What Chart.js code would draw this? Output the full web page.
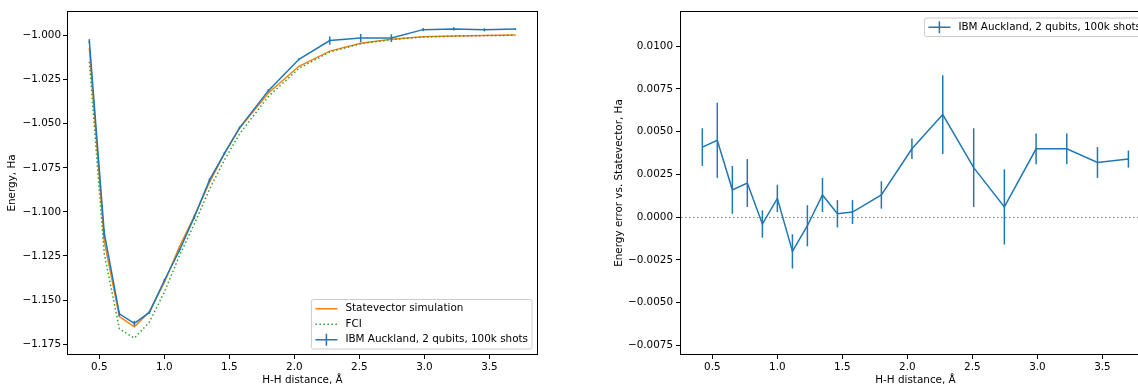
<!DOCTYPE html>
<html>
<head>
<meta charset="utf-8">
<script src="https://cdn.jsdelivr.net/npm/chart.js@4.4.0/dist/chart.umd.min.js"></script>
<style>
  html, body { margin: 0; padding: 0; background: #fff; overflow: hidden; }
  body { width: 1138px; height: 387px; position: relative; }
  #energyChart { position: absolute; left: 0; top: 0; }
  #errorChart { position: absolute; left: 600px; top: 0; }
</style>
</head>
<body>
<canvas id="energyChart" width="560" height="387"></canvas>
<canvas id="errorChart" width="560" height="387"></canvas>
<script>
// H-H distances (Angstrom)
const distances = [0.423, 0.538, 0.654, 0.769, 0.885, 1.000, 1.116, 1.231, 1.347, 1.462,
                   1.578, 1.800, 2.035, 2.272, 2.510, 2.746, 2.990, 3.226, 3.462, 3.700];
// energies, Ha
const statevector = [-1.0072, -1.1166, -1.1594, -1.1652, -1.1566, -1.1400, -1.1198, -1.1023, -1.0833, -1.0670,
                     -1.0526, -1.0325, -1.0174, -1.0088, -1.0043, -1.0020, -1.0006, -1.0002, -0.9999, -0.9997];
const fci = [-1.0148, -1.1238, -1.1663, -1.1716, -1.1625, -1.1455, -1.1248, -1.1068, -1.0872, -1.0705,
             -1.0558, -1.0345, -1.0186, -1.0093, -1.0046, -1.0022, -1.0008, -1.0003, -1.0000, -0.9998];
const ibmEnergy = [-1.0031, -1.1121, -1.1578, -1.1632, -1.1570, -1.1389, -1.1218, -1.1028, -1.0820, -1.0668,
                   -1.0523, -1.0312, -1.0134, -1.0028, -1.0014, -1.0014, -0.9966, -0.9962, -0.9967, -0.9963];
// IBM minus statevector, Ha
const ibmError = [0.0041, 0.0045, 0.0016, 0.0020, -0.0004, 0.0011, -0.0020, -0.0005, 0.0013, 0.0002,
                  0.0003, 0.0013, 0.0040, 0.0060, 0.0029, 0.0006, 0.0040, 0.0040, 0.0032, 0.0034];
// one-sigma uncertainty of the hardware runs
const ibmSigma = [0.0011, 0.0022, 0.0014, 0.0014, 0.0008, 0.0008, 0.0010, 0.0012, 0.0010, 0.0008,
                  0.0007, 0.0008, 0.0006, 0.0023, 0.0023, 0.0022, 0.0009, 0.0009, 0.0009, 0.0005];

const xTicks = [0.5, 1.0, 1.5, 2.0, 2.5, 3.0, 3.5];
const energyTicks = [-1.175, -1.150, -1.125, -1.100, -1.075, -1.050, -1.025, -1.000];
const errorTicks = [-0.0075, -0.0050, -0.0025, 0.0000, 0.0025, 0.0050, 0.0075, 0.0100];
const xRange = [0.259, 3.866];
const energyRange = [-1.1806, -0.9866];
const errorRange = [-0.008, 0.012];
const zeroLevel = 0;

const BLUE = '#1f77b4', ORANGE = '#ff7f0e', GREEN = '#2ca02c';
const IBM_LABEL = 'IBM Auckland, 2 qubits, 100k shots';
const FONT_SIZE = 10.4;

Chart.defaults.font.family = '"DejaVu Sans", sans-serif';
Chart.defaults.font.size = FONT_SIZE;
Chart.defaults.color = '#000';

const pts = ys => distances.map((d, i) => ({x: d, y: ys[i]}));
const minus = s => s.replace('-', '\u2212');

// frame, error bars, zero line and matplotlib-like legend
const extras = {
  id: 'extras',
  beforeDatasetsDraw(chart, args, opts) {
    if (opts.zeroLine === undefined) return;
    const {ctx, chartArea: a, scales: {y}} = chart;
    const py = Math.round(y.getPixelForValue(opts.zeroLine)) + 0.5;
    ctx.save();
    ctx.strokeStyle = '#808080';
    ctx.lineWidth = 1;
    ctx.setLineDash([1.5, 2.5]);
    ctx.beginPath(); ctx.moveTo(a.left, py); ctx.lineTo(a.right, py); ctx.stroke();
    ctx.restore();
  },
  afterDatasetsDraw(chart) {
    const {ctx, chartArea: a, scales: {x, y}} = chart;
    ctx.save();
    ctx.beginPath(); ctx.rect(a.left, a.top, a.right - a.left, a.bottom - a.top); ctx.clip();
    chart.data.datasets.forEach(ds => {
      if (!ds.errs) return;
      ctx.strokeStyle = ds.borderColor;
      ctx.lineWidth = ds.borderWidth;
      ds.data.forEach((p, i) => {
        const px = x.getPixelForValue(p.x);
        ctx.beginPath();
        ctx.moveTo(px, y.getPixelForValue(p.y - ds.errs[i]));
        ctx.lineTo(px, y.getPixelForValue(p.y + ds.errs[i]));
        ctx.stroke();
      });
    });
    ctx.restore();
  },
  afterDraw(chart, args, opts) {
    const {ctx, chartArea: a} = chart;
    ctx.save();
    ctx.strokeStyle = '#000';
    ctx.lineWidth = 1;
    ctx.strokeRect(Math.round(a.left) - 0.5, Math.round(a.top) - 0.5,
                   Math.round(a.right - a.left) + 1, Math.round(a.bottom - a.top) + 1);
    ctx.restore();
    if (opts.legend) drawLegend(ctx, a, opts.legend);
  }
};

function drawLegend(ctx, a, leg) {
  ctx.save();
  ctx.font = FONT_SIZE + 'px "DejaVu Sans"';
  const pad = 4, rowH = 10.5, gap = 5, handle = 22, textGap = 8;
  const tw = Math.max(...leg.items.map(it => ctx.measureText(it.label).width));
  const w = pad + handle + textGap + tw + pad;
  const h = pad * 2 + leg.items.length * rowH + (leg.items.length - 1) * gap;
  const x0 = a.right - 5 - w;
  const y0 = leg.corner === 'br' ? a.bottom - 5 - h : a.top + 6;
  ctx.beginPath();
  ctx.roundRect(x0, y0, w, h, 2);
  ctx.fillStyle = 'rgba(255,255,255,0.8)';
  ctx.fill();
  ctx.strokeStyle = '#cccccc';
  ctx.lineWidth = 1;
  ctx.stroke();
  leg.items.forEach((it, i) => {
    const cy = y0 + pad + rowH / 2 + i * (rowH + gap);
    const lx = x0 + pad;
    ctx.strokeStyle = it.color;
    ctx.lineWidth = 1.5;
    ctx.setLineDash(it.type === 'dot' ? [1.5, 2.5] : []);
    ctx.beginPath(); ctx.moveTo(lx, cy); ctx.lineTo(lx + handle, cy); ctx.stroke();
    ctx.setLineDash([]);
    if (it.type === 'err') {
      ctx.beginPath(); ctx.moveTo(lx + handle / 2, cy - 6); ctx.lineTo(lx + handle / 2, cy + 6); ctx.stroke();
    }
    ctx.fillStyle = '#000';
    ctx.textBaseline = 'middle';
    ctx.textAlign = 'left';
    ctx.fillText(it.label, lx + handle + textGap, cy);
  });
  ctx.restore();
}

function scales(yRange, yTicks, digits, yTitle, yWidth, yTitlePad, yTickPad) {
  return {
    x: {
      type: 'linear', min: xRange[0], max: xRange[1],
      afterBuildTicks: s => { s.ticks = xTicks.map(v => ({value: v})); },
      afterFit: s => { s.height = 33; },
      border: {display: false},
      grid: {drawOnChartArea: false, tickLength: 5, tickColor: '#000'},
      ticks: {autoSkip: false, maxRotation: 0, padding: 2, callback: v => v.toFixed(1)},
      title: {display: true, text: 'H-H distance, \u00c5', padding: {top: 0, bottom: 0}}
    },
    y: {
      type: 'linear', min: yRange[0], max: yRange[1],
      afterBuildTicks: s => { s.ticks = yTicks.map(v => ({value: v})); },
      afterFit: s => { s.width = yWidth; },
      border: {display: false},
      grid: {drawOnChartArea: false, tickLength: 5, tickColor: '#000'},
      ticks: {autoSkip: false, padding: yTickPad, callback: v => minus(v.toFixed(digits))},
      title: {display: true, text: yTitle, padding: {top: yTitlePad, bottom: 0}}
    }
  };
}

new Chart(document.getElementById('energyChart'), {
  type: 'line',
  data: {
    datasets: [
      {label: IBM_LABEL, data: pts(ibmEnergy), errs: ibmSigma, borderColor: BLUE, borderWidth: 1.5},
      {label: 'FCI', data: pts(fci), borderColor: GREEN, borderWidth: 1.5, borderDash: [1.5, 2.5]},
      {label: 'Statevector simulation', data: pts(statevector), borderColor: ORANGE, borderWidth: 1.5}
    ]
  },
  options: {
    responsive: false, animation: false,
    layout: {padding: {left: 0, top: 12, right: 23, bottom: 0}},
    elements: {point: {radius: 0}, line: {tension: 0}},
    scales: scales(energyRange, energyTicks, 3, 'Energy, Ha', 68, 6, 2),
    plugins: {
      legend: {display: false}, tooltip: {enabled: false},
      extras: {legend: {corner: 'br', items: [
        {label: 'Statevector simulation', type: 'line', color: ORANGE},
        {label: 'FCI', type: 'dot', color: GREEN},
        {label: IBM_LABEL, type: 'err', color: BLUE}
      ]}}
    }
  },
  plugins: [extras]
});

new Chart(document.getElementById('errorChart'), {
  type: 'line',
  data: {
    datasets: [
      {label: IBM_LABEL, data: pts(ibmError), errs: ibmSigma, borderColor: BLUE, borderWidth: 1.5}
    ]
  },
  options: {
    responsive: false, animation: false,
    layout: {padding: {left: 0, top: 12, right: 10, bottom: 0}},
    elements: {point: {radius: 0}, line: {tension: 0}},
    scales: scales(errorRange, errorTicks, 4, 'Energy error vs. Statevector, Ha', 81, 13, 3),
    plugins: {
      legend: {display: false}, tooltip: {enabled: false},
      extras: {zeroLine: zeroLevel, legend: {corner: 'tr', items: [
        {label: IBM_LABEL, type: 'err', color: BLUE}
      ]}}
    }
  },
  plugins: [extras]
});
</script>
</body>
</html>
